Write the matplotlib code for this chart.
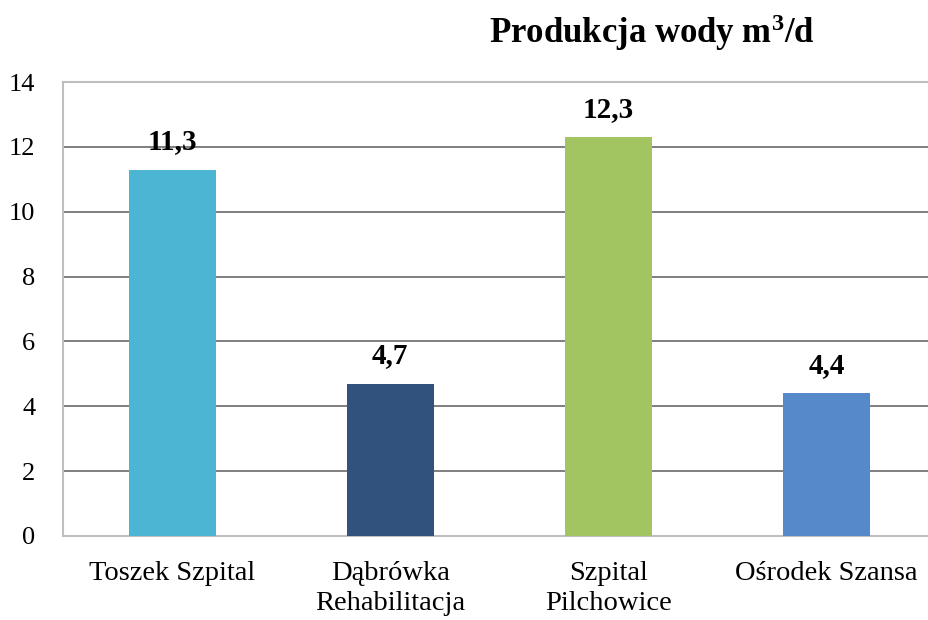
import matplotlib.pyplot as plt
import numpy as np

kategorie = ['Toszek Szpital', 'Dąbrówka\nRehabilitacja', 'Szpital\nPilchowice', 'Ośrodek Szansa']
wartosci = [11.3, 4.7, 12.3, 4.4]
etykiety = ['11,3', '4,7', '12,3', '4,4']
kolory = ['#4BB5D3', '#30527C', '#A3C561', '#5589CA']
tyt = 'Produkcja wody m$^3$/d'

plt.rcParams['font.family'] = ['Liberation Serif', 'DejaVu Serif']
plt.rcParams['mathtext.fontset'] = 'custom'
plt.rcParams['mathtext.rm'] = 'Liberation Serif:bold'
plt.rcParams['mathtext.it'] = 'Liberation Serif:bold'

fig = plt.figure(figsize=(9.29, 6.2), dpi=100)
ax = fig.add_axes([0.068, 0.1355, 0.932, 0.7322])

x = np.arange(len(kategorie))
ax.bar(x, wartosci, width=0.40, color=kolory, zorder=3)
for xi, v, e in zip(x, wartosci, etykiety):
    ax.text(xi, v + 0.62, e, ha='center', va='baseline', fontsize=21, fontweight='bold', zorder=4)

ax.set_xlim(-0.5, 3.47)
ax.set_ylim(0, 14)
ax.set_yticks(range(0, 15, 2))
ax.set_xticks(x)
ax.set_xticklabels(kategorie, fontsize=20.5, linespacing=1.26)
ax.tick_params(axis='y', labelsize=19, length=0, pad=20)
ax.tick_params(axis='x', length=0, pad=18)
ax.yaxis.grid(True, color='#7F7F7F', linewidth=1.4, zorder=0)
ax.set_axisbelow(True)

for s in ['left', 'bottom', 'top']:
    ax.spines[s].set_color('#BFBFBF')
    ax.spines[s].set_linewidth(1.5)
ax.spines['right'].set_visible(False)

fig.text(0.702, 0.947, tyt, ha='center', va='center', fontsize=25, fontweight='bold')

fig.savefig('out.png', dpi=100)
